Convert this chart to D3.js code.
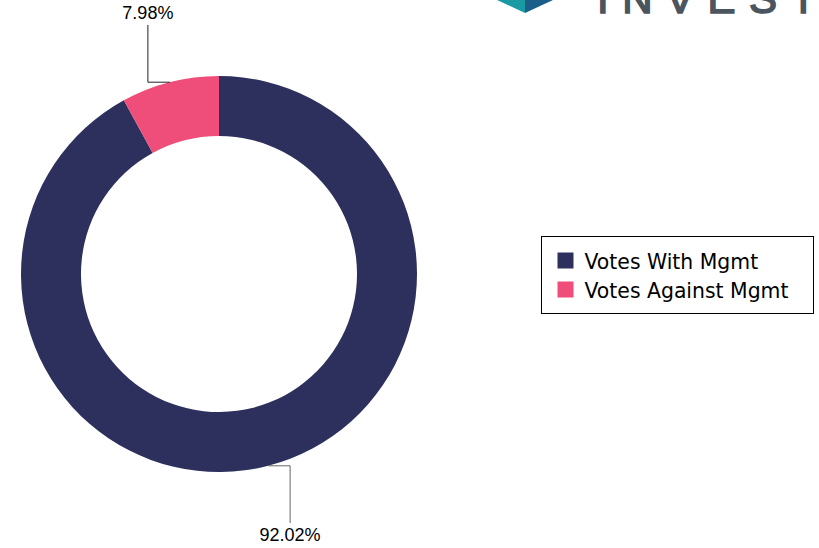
<!DOCTYPE html>
<html>
<head>
<meta charset="utf-8">
<script src="https://cdn.jsdelivr.net/npm/d3@7"></script>
<style>
  html, body { margin: 0; padding: 0; background: #fff; overflow: hidden; }
  svg { display: block; }
</style>
</head>
<body>
<div id="chart"></div>
<script>
  const categories = ["Votes With Mgmt", "Votes Against Mgmt"];
  const values = [92.02, 7.98];
  const colors = ["#2d305c", "#ee4e79"];

  const width = 819;
  const height = 548;
  const cx = 219, cy = 274;
  const outerR = 198, innerR = 138;

  const svg = d3
    .select("#chart")
    .append("svg")
    .attr("width", width)
    .attr("height", height);

  // logo, cut off at the top edge
  const logo = svg.append("g");
  logo.append("path").attr("d", "M497,0 L525,0 L525,13 Z").attr("fill", "#1a9ba3");
  logo.append("path").attr("d", "M525,0 L553,0 L525,13 Z").attr("fill", "#1b5f89");
  logo
    .append("text")
    .attr("x", 597)
    .attr("y", 13)
    .attr("font-family", "Liberation Sans, Arial, sans-serif")
    .attr("font-size", 42)
    .attr("letter-spacing", 13.5)
    .attr("fill", "#4a5560")
    .attr("stroke", "#4a5560")
    .attr("stroke-width", 1.6)
    .text("INVESTOR");

  const data = categories.map((c, i) => ({ name: c, value: values[i] }));

  const pie = d3.pie().sort(null).value((d) => d.value);
  const arcs = pie(data);

  const arc = d3.arc().innerRadius(innerR).outerRadius(outerR);

  const g = svg.append("g").attr("transform", `translate(${cx},${cy})`);

  g.selectAll("path.slice")
    .data(arcs)
    .join("path")
    .attr("class", "slice")
    .attr("d", arc)
    .attr("fill", (d, i) => colors[i]);

  // leader lines + labels
  const lineColors = ["#666", "#222"];
  arcs.forEach((d, i) => {
    const mid = (d.startAngle + d.endAngle) / 2;
    const px = Math.sin(mid) * outerR;
    const py = -Math.cos(mid) * outerR;
    const sx = px >= 0 ? 1 : -1;
    const sy = py >= 0 ? 1 : -1;
    const ex = px + sx * 22;
    const ey = sy * 249;
    g.append("path")
      .attr("d", `M${px},${py} L${ex},${py} L${ex},${ey}`)
      .attr("fill", "none")
      .attr("stroke", lineColors[i])
      .attr("stroke-width", 1);
    g.append("text")
      .attr("x", ex)
      .attr("y", sy > 0 ? ey + 18 : ey - 6)
      .attr("text-anchor", "middle")
      .attr("font-family", "Liberation Sans, Arial, sans-serif")
      .attr("font-size", 18)
      .attr("fill", "#000")
      .text(d3.format(".2f")(d.data.value) + "%");
  });

  // legend
  const legend = svg.append("g").attr("transform", "translate(541.5,236.5)");
  legend
    .append("rect")
    .attr("width", 272)
    .attr("height", 77)
    .attr("fill", "#fff")
    .attr("stroke", "#000")
    .attr("stroke-width", 1);

  const items = legend
    .selectAll("g.item")
    .data(categories)
    .join("g")
    .attr("class", "item")
    .attr("transform", (d, i) => `translate(0,${i * 29})`);

  items
    .append("rect")
    .attr("x", 16)
    .attr("y", 16)
    .attr("width", 16)
    .attr("height", 16)
    .attr("fill", (d, i) => colors[i]);

  items
    .append("text")
    .attr("x", 43)
    .attr("y", 32.5)
    .attr("font-family", "DejaVu Sans, Verdana, sans-serif")
    .attr("font-size", 20.4)
    .attr("fill", "#000")
    .text((d) => d);
</script>
</body>
</html>
